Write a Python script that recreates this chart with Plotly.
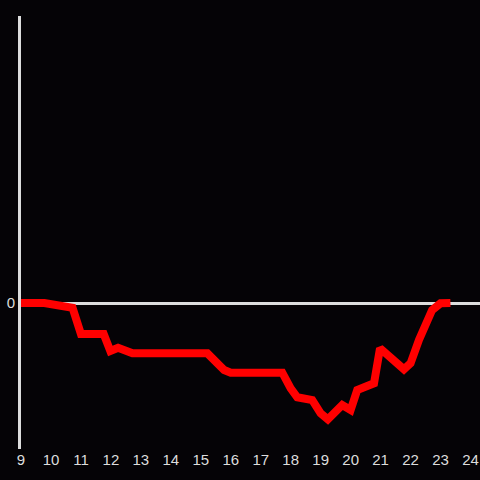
import plotly.graph_objects as go

hours = [9.0, 9.78, 10.72, 11.0, 11.76, 11.98, 12.24, 12.72, 15.22, 15.78, 16.0,
         17.72, 18.0, 18.22, 18.72, 19.0, 19.24, 19.72, 20.0, 20.22, 20.78, 20.98,
         21.78, 22.0, 22.28, 22.72, 23.0, 23.33]
values = [0, 0, -0.47, -3.1, -3.1, -4.8, -4.47, -5.03, -5.03, -6.7, -6.97,
          -6.97, -8.53, -9.43, -9.7, -11.03, -11.63, -10.2, -10.7, -8.7, -8.03, -4.53,
          -6.63, -6.03, -3.7, -0.7, -0.03, 0]
x_ticks = list(range(9, 25))

fig = go.Figure()
fig.add_trace(go.Scatter(x=hours, y=values, mode="lines",
                         line=dict(color="#ff0000", width=8),
                         hoverinfo="skip"))

fig.update_layout(
    width=480, height=480,
    margin=dict(l=21, r=0, t=16, b=31),
    paper_bgcolor="#050306", plot_bgcolor="#050306",
    showlegend=False,
    font=dict(family="Liberation Sans, Arial, sans-serif", size=15, color="#dddddd"),
    xaxis=dict(range=[9, 24.317], tickvals=x_ticks, ticktext=[str(t) for t in x_ticks],
               showgrid=False, zeroline=False, showline=False, ticks="",
               ticklen=0),
    yaxis=dict(range=[-14.6, 28.7], tickvals=[0], ticktext=["0"],
               showgrid=False, zeroline=True, zerolinecolor="#dddddd", zerolinewidth=3,
               showline=True, linecolor="#dddddd", linewidth=3, ticks=""),
)

fig.write_html("out.html", config={"displayModeBar": False},
               post_script="document.body.style.margin='0';document.body.style.overflow='hidden';document.body.style.background='#050306';")
